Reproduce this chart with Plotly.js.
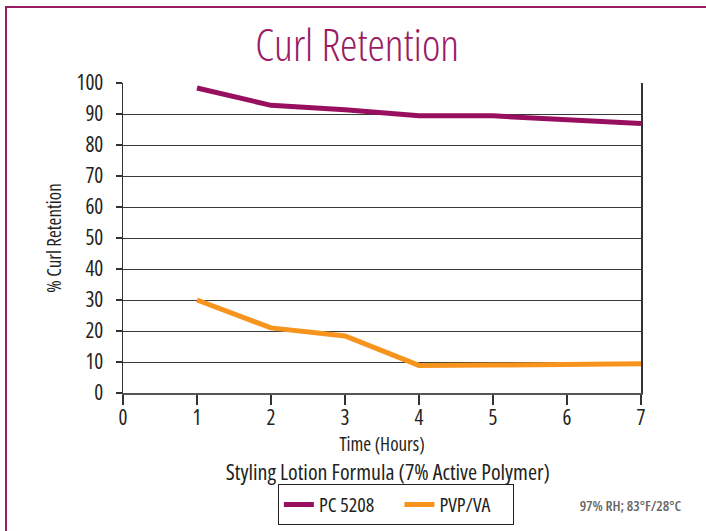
<!DOCTYPE html>
<html>
<head>
<meta charset="utf-8">
<script src="https://cdn.plot.ly/plotly-3.0.1.min.js"></script>
<style>
  html, body { margin: 0; padding: 0; background: #fff; }
  #wrap { position: relative; width: 706px; height: 531px; overflow: hidden; }
  #chart { width: 706px; height: 531px; }
  #chart text { font-stretch: condensed !important; }
  #frame { position: absolute; left: 5px; top: 6px; width: 720px; height: 560px;
           border-left: 2px solid #9b1b63; border-top: 2px solid #9b1b63; pointer-events: none; }
</style>
</head>
<body>
<div id="wrap">
  <div id="chart"></div>
  <div id="frame"></div>
</div>
<script>
const hours = [1, 2, 3, 4, 5, 6, 7];
const pc5208 = [98.4, 92.8, 91.4, 89.4, 89.4, 88.0, 86.9];
const pvpva = [30.0, 21.0, 18.4, 8.9, 9.0, 9.1, 9.4];
const seriesNames = ['PC 5208', 'PVP/VA'];
const xTicks = [0, 1, 2, 3, 4, 5, 6, 7];
const yTicks = [0, 10, 20, 30, 40, 50, 60, 70, 80, 90, 100];

const FONT = '"Open Sans", "DejaVu Sans", sans-serif';
const INK = '#231f20';
function f(size, color, weight) {
  return { family: FONT, size: size, color: color || INK, weight: weight || 500 };
}

const traces = [
  { x: hours, y: pc5208, name: seriesNames[0], type: 'scatter', mode: 'lines',
    line: { color: '#990f5f', width: 5 } },
  { x: hours, y: pvpva, name: seriesNames[1], type: 'scatter', mode: 'lines',
    line: { color: '#f7941d', width: 5 } }
];

const layout = {
  width: 706, height: 531,
  margin: { l: 123, r: 65, t: 83, b: 138, autoexpand: false },
  paper_bgcolor: '#fff', plot_bgcolor: '#fff',
  font: f(19),
  title: { text: 'Curl Retention', x: 0.506, xref: 'container', y: 0.915, yref: 'container',
           xanchor: 'center', yanchor: 'middle', font: f(44, '#9b1b63', 300) },
  xaxis: {
    range: [0, 7], tickvals: xTicks, ticktext: xTicks.map(String),
    showgrid: false, zeroline: false, automargin: false,
    showline: true, linecolor: '#555', linewidth: 2,
    ticks: 'outside', ticklen: 10, tickwidth: 1.5, tickcolor: '#333',
    ticklabelstandoff: -5,
    tickfont: f(21),
    title: { text: 'Time (Hours)', standoff: 3, font: f(19) }
  },
  yaxis: {
    range: [0, 100], tickvals: yTicks, ticktext: yTicks.map(String),
    showgrid: true, gridcolor: '#3a3a3a', gridwidth: 1, zeroline: false, automargin: false,
    showline: true, linecolor: '#333', linewidth: 1.5, mirror: true,
    ticks: 'outside', ticklen: 6, tickwidth: 1.5, tickcolor: '#333',
    ticklabelstandoff: 8,
    tickfont: f(21),
    title: { text: '% Curl Retention', standoff: 0, font: f(19) }
  },
  showlegend: true,
  legend: {
    orientation: 'h', x: 0.299, xanchor: 'left', y: (393 - 484) / 310, yanchor: 'top',
    bordercolor: INK, borderwidth: 1, bgcolor: '#fff',
    font: f(20),
    itemwidth: 30, traceorder: 'normal'
  },
  annotations: [
    { text: 'Styling Lotion Formula (7% Active Polymer)', xref: 'paper', yref: 'paper',
      x: (388 - 123) / 518, y: (393 - 471) / 310, xanchor: 'center', yanchor: 'middle',
      showarrow: false, font: f(22) },
    { text: '97% RH; 83°F/28°C', xref: 'paper', yref: 'paper',
      x: (630 - 123) / 518, y: (393 - 505) / 310, xanchor: 'center', yanchor: 'middle',
      showarrow: false, font: f(14.5, '#666', 600) }
  ]
};

Plotly.newPlot('chart', traces, layout, { displayModeBar: false, staticPlot: true });
</script>
</body>
</html>
